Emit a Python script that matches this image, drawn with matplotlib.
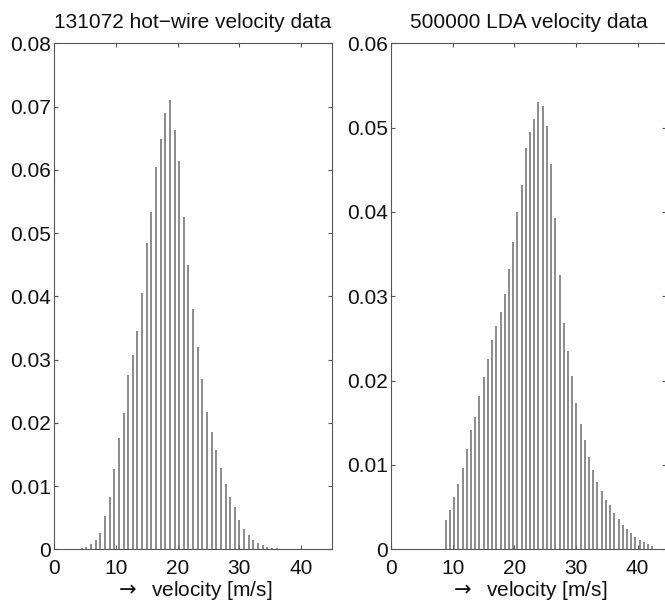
import matplotlib
matplotlib.use("Agg")
import matplotlib.pyplot as plt
from matplotlib.ticker import FuncFormatter

plt.rcParams['font.family'] = ['Liberation Sans', 'DejaVu Sans']

# hot-wire histogram (50 bins, only the non-empty ones read off)
hw_centers = [4.49, 5.24, 5.99, 6.74, 7.49, 8.25, 9.00, 9.75, 10.50, 11.25,
              12.00, 12.75, 13.50, 14.25, 15.00, 15.75, 16.51, 17.26, 18.01, 18.76,
              19.51, 20.26, 21.01, 21.76, 22.51, 23.26, 24.01, 24.77, 25.52, 26.27,
              27.02, 27.77, 28.52, 29.27, 30.02, 30.77, 31.52, 32.27, 33.02, 33.78,
              34.53, 35.28, 36.03]
hw_freq = [0.00016, 0.00032, 0.00079, 0.00148, 0.00253, 0.00527, 0.00822, 0.01275, 0.01765, 0.0216,
           0.02756, 0.03067, 0.03452, 0.04047, 0.04838, 0.05333, 0.0605, 0.06493, 0.06893, 0.07104,
           0.06635, 0.06145, 0.0526, 0.0449, 0.03794, 0.03194, 0.02693, 0.02171, 0.01855, 0.01565,
           0.01281, 0.01038, 0.00827, 0.00664, 0.00458, 0.00321, 0.00227, 0.00153, 0.00095, 0.00063,
           0.00042, 0.00026, 0.00016]

# LDA histogram (50 bins)
lda_centers = [8.87, 9.55, 10.23, 10.92, 11.60, 12.29, 12.97, 13.66, 14.34, 15.02,
               15.71, 16.39, 17.08, 17.76, 18.44, 19.13, 19.81, 20.50, 21.18, 21.86,
               22.55, 23.23, 23.92, 24.60, 25.28, 25.97, 26.65, 27.34, 28.02, 28.70,
               29.39, 30.07, 30.76, 31.44, 32.12, 32.81, 33.49, 34.18, 34.86, 35.54,
               36.23, 36.91, 37.60, 38.28, 38.96, 39.65, 40.33, 41.02, 41.70, 42.38]
lda_freq = [0.00348, 0.0047, 0.00625, 0.00779, 0.00965, 0.0119, 0.01411, 0.01573, 0.01822, 0.0204,
            0.02253, 0.02479, 0.02648, 0.02815, 0.03028, 0.03324, 0.03649, 0.04, 0.04321, 0.04755,
            0.04945, 0.05107, 0.05309, 0.05257, 0.0502, 0.04566, 0.03933, 0.03253, 0.0268, 0.02352,
            0.02056, 0.01735, 0.01482, 0.013, 0.01095, 0.00937, 0.00795, 0.00696, 0.00581, 0.00522,
            0.00431, 0.0036, 0.00285, 0.00237, 0.0019, 0.00146, 0.00115, 0.00083, 0.00067, 0.00043]

W, H = 665, 603
fig = plt.figure(figsize=(W / 100, H / 100), dpi=100)

# axes boxes in pixels: left, right, top, bottom
ax1 = fig.add_axes([54 / W, (H - 549.3) / H, (332 - 54) / W, 506 / H])
ax2 = fig.add_axes([391 / W, (H - 549.3) / H, (666 - 391) / W, 506 / H])

fmt = FuncFormatter(lambda v, p: '0' if abs(v) < 1e-12 else '%.2f' % v)
spine_col = '#555555'
bar_col = '#6c6c6c'

panels = [
    (ax1, hw_centers, hw_freq, '131072 hot\u2212wire velocity data', 0.08, 45),
    (ax2, lda_centers, lda_freq, '500000 LDA velocity data', 0.06, 44.6),
]
for ax, xs, ys, title, ytop, xright in panels:
    ax.vlines(xs, 0, ys, colors=bar_col, linewidth=1.1)
    ax.set_xlim(0, xright)
    ax.set_ylim(0, ytop)
    ax.set_xticks([0, 10, 20, 30, 40])
    ax.set_yticks([i / 100 for i in range(int(round(ytop * 100)) + 1)])
    ax.yaxis.set_major_formatter(fmt)
    ax.tick_params(direction='in', length=3, width=0.8, color=spine_col,
                   top=True, right=True, labelsize=15, labelcolor='#111111')
    ax.tick_params(axis='x', pad=7)
    ax.tick_params(axis='y', pad=2)
    for s in ax.spines.values():
        s.set_color(spine_col)
        s.set_linewidth(0.8)
    ax.set_title(title, fontsize=15, pad=11, color='#111111')
    ax.set_xlabel(r'$\rightarrow$  velocity [m/s]', fontsize=15, labelpad=1,
                  color='#111111')

fig.savefig('out.png', dpi=100)
